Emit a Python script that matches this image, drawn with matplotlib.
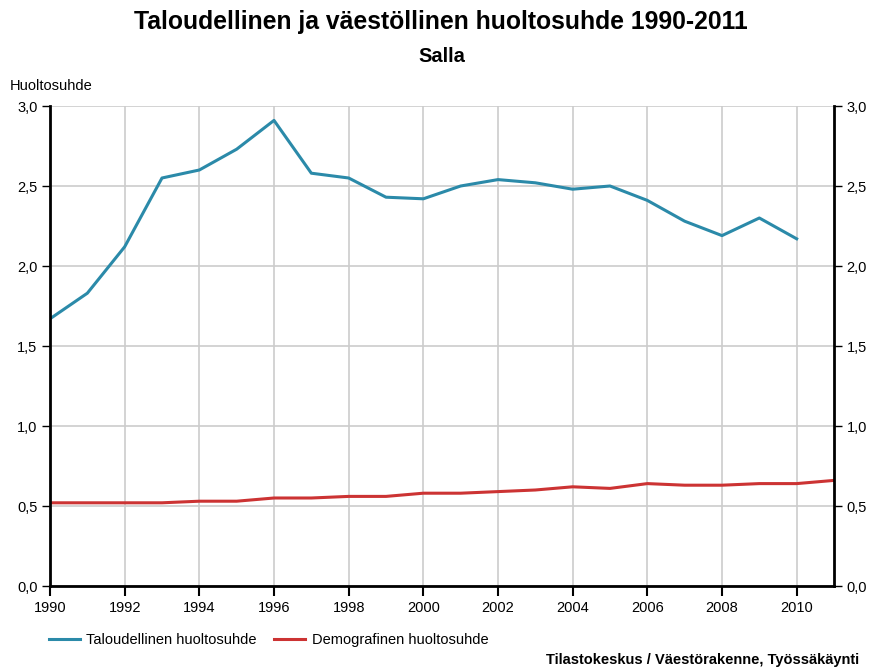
import matplotlib
matplotlib.use('Agg')
import matplotlib.pyplot as plt
import numpy as np

plt.rcParams['font.family'] = ['Liberation Sans', 'DejaVu Sans']

years = list(range(1990, 2012))
taloudellinen = [1.67, 1.83, 2.12, 2.55, 2.60, 2.73, 2.91, 2.58, 2.55, 2.43, 2.42,
                 2.50, 2.54, 2.52, 2.48, 2.50, 2.41, 2.28, 2.19, 2.30, 2.17, None]
demografinen = [0.52, 0.52, 0.52, 0.52, 0.53, 0.53, 0.55, 0.55, 0.56, 0.56, 0.58,
                0.58, 0.59, 0.60, 0.62, 0.61, 0.64, 0.63, 0.63, 0.64, 0.64, 0.66]
x_ticks = list(range(1990, 2011, 2))
y_ticks = [0.0, 0.5, 1.0, 1.5, 2.0, 2.5, 3.0]
y_labels = ['0,0', '0,5', '1,0', '1,5', '2,0', '2,5', '3,0']

blue = '#2b8aa9'
red = '#cc3333'

fig = plt.figure(figsize=(8.69, 6.68), dpi=100)
ax = fig.add_axes([50/869, 1 - 586/668, 784/869, 480/668])

t = np.array([np.nan if v is None else v for v in taloudellinen])
ax.plot(years, t, color=blue, lw=2.2, label='Taloudellinen huoltosuhde', solid_joinstyle='round')
ax.plot(years, demografinen, color=red, lw=2.2, label='Demografinen huoltosuhde', solid_joinstyle='round')

ax.set_xlim(1990, 2011)
ax.set_ylim(0, 3.0)
ax.set_xticks(x_ticks)
ax.set_xticklabels([str(y) for y in x_ticks], fontsize=10.5)
ax.set_yticks(y_ticks)
ax.set_yticklabels(y_labels, fontsize=10.5)
ax.grid(True, color='#cccccc', lw=1.2)
ax.set_axisbelow(True)

for s in ['left', 'right', 'bottom']:
    ax.spines[s].set_linewidth(2)
    ax.spines[s].set_color('black')
ax.spines['top'].set_visible(False)
ax.tick_params(axis='y', direction='out', length=6, width=1, labelright=True, right=True, pad=3)
ax.tick_params(axis='x', direction='out', length=7, width=1.5, pad=4)

fig.text(441/869, 1 - 22/668, 'Taloudellinen ja väestöllinen huoltosuhde 1990-2011',
         ha='center', va='center', fontsize=17.8, fontweight='bold')
fig.text(442/869, 1 - 57/668, 'Salla', ha='center', va='center', fontsize=14.5, fontweight='bold')
fig.text(10/869, 1 - 86/668, 'Huoltosuhde', ha='left', va='center', fontsize=10.5)
fig.text(859/869, 1 - 660/668, 'Tilastokeskus / Väestörakenne, Työssäkäynti',
         ha='right', va='center', fontsize=10.5, fontweight='bold')

fig.legend(loc='center left', bbox_to_anchor=(36/869, 1 - 640/668), ncol=2, frameon=False,
           fontsize=10.5, handlelength=2.1, columnspacing=1.2, handletextpad=0.45)

fig.savefig('out.png', dpi=100)
